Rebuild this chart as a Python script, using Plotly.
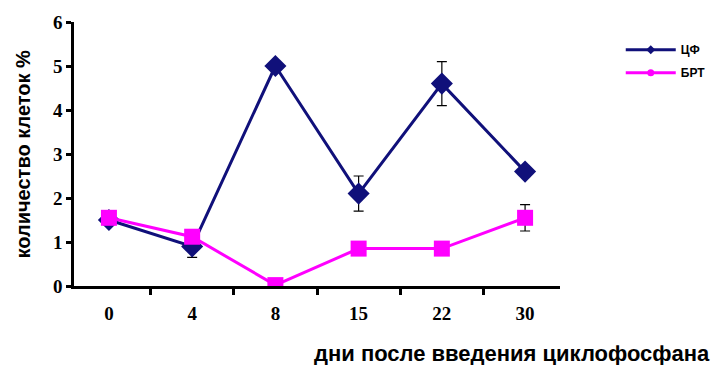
import plotly.graph_objects as go

# days after cyclophosphamide administration
days = ["0", "4", "8", "15", "22", "30"]

# cell counts, %
cf_values = [1.5, 0.9, 5.0, 2.1, 4.6, 2.6]
cf_errors = [0.0, 0.25, 0.0, 0.4, 0.5, 0.0]

brt_values = [1.55, 1.12, 0.02, 0.85, 0.85, 1.55]
brt_errors = [0.0, 0.0, 0.0, 0.0, 0.0, 0.3]

y_ticks = [0, 1, 2, 3, 4, 5, 6]

series = [
    ("ЦФ", cf_values, cf_errors, "#10107a", "diamond", 17, 7),
    ("БРТ", brt_values, brt_errors, "#ff00ff", "square", 16, 7),
]

fig = go.Figure()

for name, vals, errs, color, symbol, size, legend_size in series:
    fig.add_trace(go.Scatter(
        x=days, y=vals, name=name, mode="lines+markers", showlegend=False,
        line=dict(color=color, width=3),
        marker=dict(symbol=symbol, size=size, color=color),
        error_y=dict(type="data", array=errs, visible=True,
                     color="black", thickness=1.2, width=5),
    ))
    # legend entry with a small marker
    fig.add_trace(go.Scatter(
        x=[None], y=[None], name="<b>" + name + "</b>", mode="lines+markers",
        legendgroup=name,
        line=dict(color=color, width=3),
        marker=dict(symbol="circle" if symbol == "square" else "diamond",
                    size=legend_size, color=color),
    ))

tick_font = dict(family="Liberation Serif", size=19, color="black",
                 weight="bold")

fig.update_layout(
    width=723, height=365,
    margin=dict(l=74, r=151, t=22, b=79),
    paper_bgcolor="white", plot_bgcolor="white",
    showlegend=True,
    legend=dict(
        x=1.125, y=0.95, xanchor="left", yanchor="top",
        font=dict(family="Liberation Sans", size=12, color="black"),
        bgcolor="rgba(0,0,0,0)", tracegroupgap=4, itemwidth=50,
    ),
    xaxis=dict(
        type="category", categoryorder="array", categoryarray=days,
        showline=True, linecolor="black", linewidth=2.5,
        ticks="outside", tickson="boundaries", ticklen=6, tickwidth=2.5,
        tickcolor="black", showgrid=False, zeroline=False,
        tickfont=tick_font, ticklabelstandoff=8,
    ),
    yaxis=dict(
        range=[0, 6], tickvals=y_ticks,
        showline=True, linecolor="black", linewidth=2.5,
        ticks="outside", ticklen=5, tickwidth=2.5, tickcolor="black",
        showgrid=False, zeroline=False, tickfont=tick_font,
    ),
    annotations=[
        dict(text="<b>количество клеток %</b>", textangle=-90,
             xref="paper", yref="paper", x=-0.104, y=0.5,
             xanchor="center", yanchor="middle", showarrow=False,
             font=dict(family="Liberation Sans", size=20, color="black")),
        dict(text="<b>дни после введения циклофосфана</b>",
             xref="paper", yref="paper", x=1.312, y=-0.2,
             xanchor="right", yanchor="top", showarrow=False,
             font=dict(family="Liberation Sans", size=22, color="black")),
    ],
)

fig.write_html("out.html")
